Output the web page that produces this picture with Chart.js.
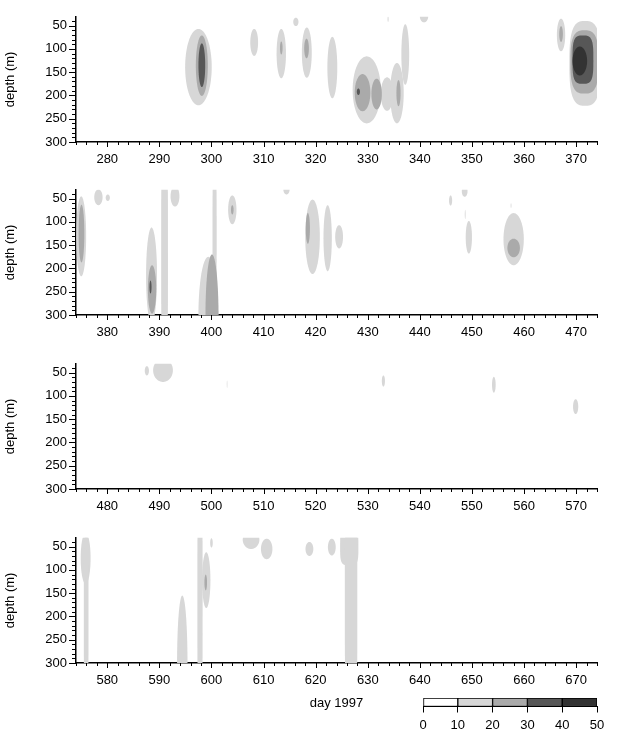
<!DOCTYPE html>
<html>
<head>
<meta charset="utf-8">
<script src="https://cdn.jsdelivr.net/npm/chart.js@4.4.1/dist/chart.umd.min.js"></script>
<style>
  body { margin: 0; background: #fff; }
  #wrap { position: relative; width: 624px; height: 739px; }
  canvas { position: absolute; }
</style>
</head>
<body>
<div id="wrap">
  <canvas id="p1"></canvas>
  <canvas id="p2"></canvas>
  <canvas id="p3"></canvas>
  <canvas id="p4"></canvas>
  <canvas id="cbar"></canvas>
</div>
<script>
// day ranges of the four strips
const dayRanges = [[274, 374], [374, 474], [474, 574], [574, 674]];
const dayTicks = [
  [280, 290, 300, 310, 320, 330, 340, 350, 360, 370],
  [380, 390, 400, 410, 420, 430, 440, 450, 460, 470],
  [480, 490, 500, 510, 520, 530, 540, 550, 560, 570],
  [580, 590, 600, 610, 620, 630, 640, 650, 660, 670]
];
const depthTicks = [50, 100, 150, 200, 250, 300];
const depthRange = [31, 300];
const levelBounds = [0, 10, 20, 30, 40, 50];

// contour patches: [day, depth, half-width (days), half-height (m), level, shape]
const blobs1 = [
  [297.5, 139, 2.55, 82, 1], [308.2, 86, 0.75, 29, 1], [313.4, 110, 0.9, 53, 1],
  [316.2, 42, 0.5, 9, 1], [318.3, 108, 0.95, 54, 1], [323.2, 140, 0.95, 66, 1],
  [329.8, 188, 2.7, 72, 1], [333.7, 197, 1.2, 36, 1], [335.6, 195, 1.3, 65, 1],
  [337.2, 112, 0.75, 65, 1], [340.8, 30, 0.8, 13, 1], [333.9, 36, 0.1, 6, 1],
  [367.1, 70, 0.8, 35, 1], [371.7, 131, 3.0, 91, 1, 3],
  [298.15, 136, 1.15, 65, 2], [313.4, 98, 0.25, 14, 2], [318.25, 99, 0.45, 21, 2],
  [329.0, 194, 1.5, 40, 2], [331.7, 197, 1.0, 33, 2], [335.9, 195, 0.4, 28, 2],
  [367.1, 68, 0.35, 17, 2], [371.6, 128, 2.7, 68, 2, 3],
  [298.15, 135, 0.65, 47, 3], [328.2, 192, 0.3, 7, 3], [371.3, 123, 2.0, 52, 3, 3.5],
  [370.7, 126, 1.4, 31, 4]
];
const blobs2 = [
  [375.0, 131, 0.95, 86, 1], [378.3, 47, 0.8, 17, 1], [380.1, 48, 0.4, 7, 1],
  [388.5, 215, 1.05, 103, 1], [391.0, 165, 0.65, 175, 1, 6], [393.0, 45, 0.85, 22, 1],
  [400.6, 140, 0.4, 150, 1, 4], [399.4, 300, 1.9, 125, 1], [404.0, 74, 0.8, 31, 1],
  [414.4, 30, 0.6, 11, 1], [419.4, 132, 1.4, 80, 1], [422.3, 135, 0.8, 71, 1],
  [424.5, 132, 0.75, 25, 1], [445.9, 54, 0.3, 11, 1], [448.6, 34, 0.55, 12, 1],
  [448.7, 84, 0.08, 10, 1], [449.4, 133, 0.6, 35, 1], [458.0, 137, 1.95, 56, 1],
  [457.5, 65, 0.08, 5, 1],
  [375.05, 125, 0.55, 62, 2], [388.6, 245, 0.8, 52, 2], [400.1, 300, 1.25, 130, 2],
  [404.0, 74, 0.25, 10, 2], [418.5, 114, 0.4, 33, 2], [458.0, 156, 1.2, 20, 2],
  [388.3, 240, 0.2, 14, 3]
];
const blobs3 = [
  [490.7, 45, 1.9, 25, 1], [487.6, 46, 0.4, 10, 1], [503.0, 75, 0.06, 8, 1],
  [533.0, 68, 0.3, 12, 1], [554.2, 76, 0.35, 17, 1], [569.9, 123, 0.5, 16, 1]
];
const blobs4 = [
  [575.85, 75, 0.95, 55, 1], [575.95, 200, 0.45, 180, 1, 4], [594.4, 300, 1.0, 145, 1],
  [597.8, 165, 0.5, 175, 1, 6], [599.0, 122, 0.8, 60, 1], [600.0, 42, 0.25, 10, 1],
  [607.6, 35, 1.6, 20, 1], [610.6, 55, 1.1, 22, 1], [618.8, 55, 0.75, 15, 1],
  [623.1, 51, 0.75, 18, 1], [626.45, 50, 1.75, 40, 1, 4], [626.8, 170, 1.2, 180, 1, 6],
  [598.9, 127, 0.25, 17, 2]
];
const panelBlobs = [blobs1, blobs2, blobs3, blobs4];

const levelColors = ['#ffffff', '#d7d7d7', '#aaaaaa', '#575757', '#333333'];
const FONT = { family: "'Liberation Sans', Arial, sans-serif", size: 13 };
const plotTops = [12, 185, 359, 533];

// filled contour patches, drawn through the chart scales
const blobPlugin = {
  id: 'blobs',
  beforeDatasetsDraw(chart) {
    const { ctx, chartArea: a, scales: { x, y } } = chart;
    ctx.save();
    ctx.beginPath();
    ctx.rect(a.left, a.top, a.width, a.height);
    ctx.clip();
    chart.data.datasets.forEach(ds => {
      ctx.fillStyle = ds.backgroundColor;
      ds.data.forEach(b => {
        const cx = x.getPixelForValue(b.x), cy = y.getPixelForValue(b.y);
        const rx = Math.abs(x.getPixelForValue(b.x + b.rx) - cx);
        const ry = Math.abs(y.getPixelForValue(b.y + b.ry) - cy);
        const e = 2 / (b.n || 2);
        ctx.beginPath();
        for (let i = 0; i <= 96; i++) {
          const t = i / 96 * Math.PI * 2;
          const c = Math.cos(t), s = Math.sin(t);
          const px = cx + rx * Math.sign(c) * Math.pow(Math.abs(c), e);
          const py = cy + ry * Math.sign(s) * Math.pow(Math.abs(s), e);
          if (i) ctx.lineTo(px, py); else ctx.moveTo(px, py);
        }
        ctx.closePath();
        ctx.fill();
      });
    });
    ctx.restore();
  }
};

// major and minor tick marks
const tickPlugin = {
  id: 'tickMarks',
  afterDraw(chart) {
    const { ctx, chartArea: a, scales: { x, y } } = chart;
    ctx.save();
    ctx.strokeStyle = '#000';
    ctx.lineWidth = 1;
    ctx.beginPath();
    for (let d = Math.ceil(x.min / 2) * 2; d <= x.max; d += 2) {
      const px = Math.round(x.getPixelForValue(d)) + 0.5;
      ctx.moveTo(px, a.bottom);
      ctx.lineTo(px, a.bottom + (d % 10 === 0 ? 5 : 3));
    }
    for (let v = Math.ceil(y.min / 10) * 10; v <= y.max; v += 10) {
      const py = Math.round(y.getPixelForValue(v)) + 0.5;
      ctx.moveTo(a.left, py);
      ctx.lineTo(a.left - (v % 50 === 0 ? 7 : 4), py);
    }
    ctx.stroke();
    ctx.restore();
  }
};

function makePanel(i) {
  const el = document.getElementById('p' + (i + 1));
  const H = i === 3 ? 739 - (plotTops[i] - 12) : 170;
  el.width = 624; el.height = H;
  el.style.left = '0px';
  el.style.top = (plotTops[i] - 12) + 'px';
  el.style.width = '624px'; el.style.height = H + 'px';

  const datasets = [1, 2, 3, 4].map(lv => ({
    label: levelBounds[lv] + '-' + levelBounds[lv + 1],
    backgroundColor: levelColors[lv],
    pointRadius: 0,
    data: panelBlobs[i].filter(b => b[4] === lv).map(b => ({ x: b[0], y: b[1], rx: b[2], ry: b[3], n: b[5] }))
  }));

  new Chart(el, {
    type: 'scatter',
    data: { datasets },
    plugins: [blobPlugin, tickPlugin],
    options: {
      responsive: false,
      animation: false,
      events: [],
      layout: { padding: { top: 12, right: 27, left: 0, bottom: 0 } },
      plugins: { legend: { display: false }, tooltip: { enabled: false } },
      scales: {
        x: {
          type: 'linear', min: dayRanges[i][0], max: dayRanges[i][1],
          afterBuildTicks: s => { s.ticks = dayTicks[i].map(v => ({ value: v })); },
          afterFit: s => { s.height = H - 12 - 130; },
          grid: { display: false, drawTicks: false },
          border: { display: true, color: '#000', width: 1.5 },
          ticks: { font: FONT, color: '#000', padding: 10, maxRotation: 0, autoSkip: false },
          title: { display: i === 3, text: 'day 1997', font: FONT, color: '#000', padding: { top: 0, bottom: 28 } }
        },
        y: {
          type: 'linear', reverse: true, min: depthRange[0], max: depthRange[1],
          afterBuildTicks: s => { s.ticks = depthTicks.map(v => ({ value: v })); },
          afterFit: s => { s.width = 76; },
          grid: { display: false, drawTicks: false },
          border: { display: true, color: '#000', width: 1.5 },
          ticks: { font: FONT, color: '#000', padding: 9, autoSkip: false },
          title: { display: true, text: 'depth (m)', font: FONT, color: '#000', padding: { top: 3, bottom: 0 } }
        }
      }
    }
  });
}
[0, 1, 2, 3].forEach(makePanel);

// colour key
const cb = document.getElementById('cbar');
cb.width = 224; cb.height = 49;
cb.style.left = '400px'; cb.style.top = '690px';
cb.style.width = '224px'; cb.style.height = '49px';
new Chart(cb, {
  type: 'bar',
  data: {
    labels: [''],
    datasets: levelBounds.slice(0, -1).map((lo, k) => ({
      data: [levelBounds[k + 1] - lo],
      backgroundColor: levelColors[k],
      borderColor: '#000',
      borderWidth: 1,
      borderSkipped: false,
      barPercentage: 1,
      categoryPercentage: 1
    }))
  },
  options: {
    indexAxis: 'y',
    responsive: false,
    animation: false,
    events: [],
    layout: { padding: { top: 8, left: 23, right: 27, bottom: 0 } },
    plugins: { legend: { display: false }, tooltip: { enabled: false } },
    scales: {
      x: {
        stacked: true, min: 0, max: 50,
        afterBuildTicks: s => { s.ticks = levelBounds.map(v => ({ value: v })); },
        afterFit: s => { s.height = 49 - 8 - 8.5; },
        grid: { drawOnChartArea: false, drawTicks: true, tickLength: 6, color: '#000', tickColor: '#000' },
        border: { display: true, color: '#000', width: 1 },
        ticks: { font: FONT, color: '#000', padding: 5, maxRotation: 0, autoSkip: false }
      },
      y: { stacked: true, display: false }
    }
  }
});
</script>
</body>
</html>
